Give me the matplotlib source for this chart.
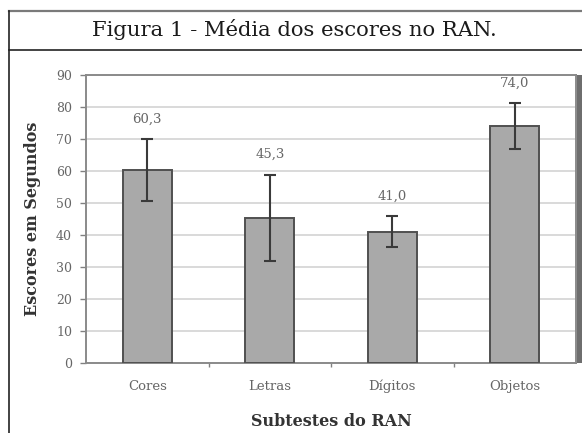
import matplotlib
matplotlib.use("Agg")
import matplotlib.pyplot as plt
from matplotlib.lines import Line2D
from matplotlib.patches import Rectangle

# Data
categories = ["Cores", "Letras", "Dígitos", "Objetos"]
means = [60.3, 45.3, 41.0, 74.0]
errors = [9.6, 13.5, 4.8, 7.2]
value_labels = ["60,3", "45,3", "41,0", "74,0"]
y_ticks = [0, 10, 20, 30, 40, 50, 60, 70, 80, 90]

W, H = 582, 433
fig = plt.figure(figsize=(W / 100, H / 100), dpi=100)
serif = "DejaVu Serif"

def fx(px):
    return px / W

def fy(py):
    return 1 - py / H

# Outer frame and caption box
fig.add_artist(Line2D([fx(9), fx(582)], [fy(11), fy(11)], color="#7a7a7a", lw=1.6))
fig.add_artist(Line2D([fx(9), fx(9)], [fy(11), fy(433)], color="#222222", lw=1.2))
fig.add_artist(Line2D([fx(9), fx(582)], [fy(50), fy(50)], color="#222222", lw=1.2))
fig.text(fx(294), fy(30), "Figura 1 - Média dos escores no RAN.", ha="center", va="center",
         family=serif, fontsize=15.2, color="#1a1a1a")

# Plot area
left, right, top, bottom = 86, 576, 75, 363
ax = fig.add_axes([fx(left), fy(bottom), fx(right - left), (bottom - top) / H])
x = list(range(len(categories)))
ax.bar(x, means, width=0.4, color="#a9a9a9", edgecolor="#505050", linewidth=1.4, zorder=3)
ax.errorbar(x, means, yerr=errors, fmt="none", ecolor="#3a3a3a", elinewidth=1.5,
            capsize=4, capthick=1.5, zorder=4)
for xi, m, e, lab in zip(x, means, errors, value_labels):
    ax.annotate(lab, (xi, m + e), xytext=(0, 10), textcoords="offset points",
                ha="center", va="bottom", family=serif, fontsize=9.5, color="#666666")

ax.set_xlim(-0.5, len(categories) - 0.5)
ax.set_ylim(0, 90)
ax.set_yticks(y_ticks)
ax.set_yticklabels([str(t) for t in y_ticks], family=serif, fontsize=9, color="#666666")
ax.set_xticks(x)
ax.set_xticklabels(categories, family=serif, fontsize=9.5, color="#666666")
ax.set_xticks([i + 0.5 for i in x[:-1]], minor=True)
ax.tick_params(axis="x", which="major", length=0, pad=12)
ax.tick_params(axis="x", which="minor", length=3, color="#808080", width=1)
ax.tick_params(axis="y", length=4, color="#808080", width=1, pad=6)
ax.yaxis.grid(True, color="#d9d9d9", lw=1.4, zorder=0)
ax.set_axisbelow(True)
for s in ax.spines.values():
    s.set_color("#8a8a8a")
    s.set_linewidth(1.4)

ax.set_ylabel("Escores em Segundos", family=serif, fontweight="bold", fontsize=11.5,
              color="#333333", labelpad=11)
ax.set_xlabel("Subtestes do RAN", family=serif, fontweight="bold", fontsize=11.5,
              color="#333333", labelpad=14)

# Dark edge on the right of the plot area
fig.add_artist(Rectangle((fx(577), fy(bottom)), fx(5), (bottom - top) / H,
                         facecolor="#6e6e6e", edgecolor="none"))

fig.savefig("out.png", dpi=100)
